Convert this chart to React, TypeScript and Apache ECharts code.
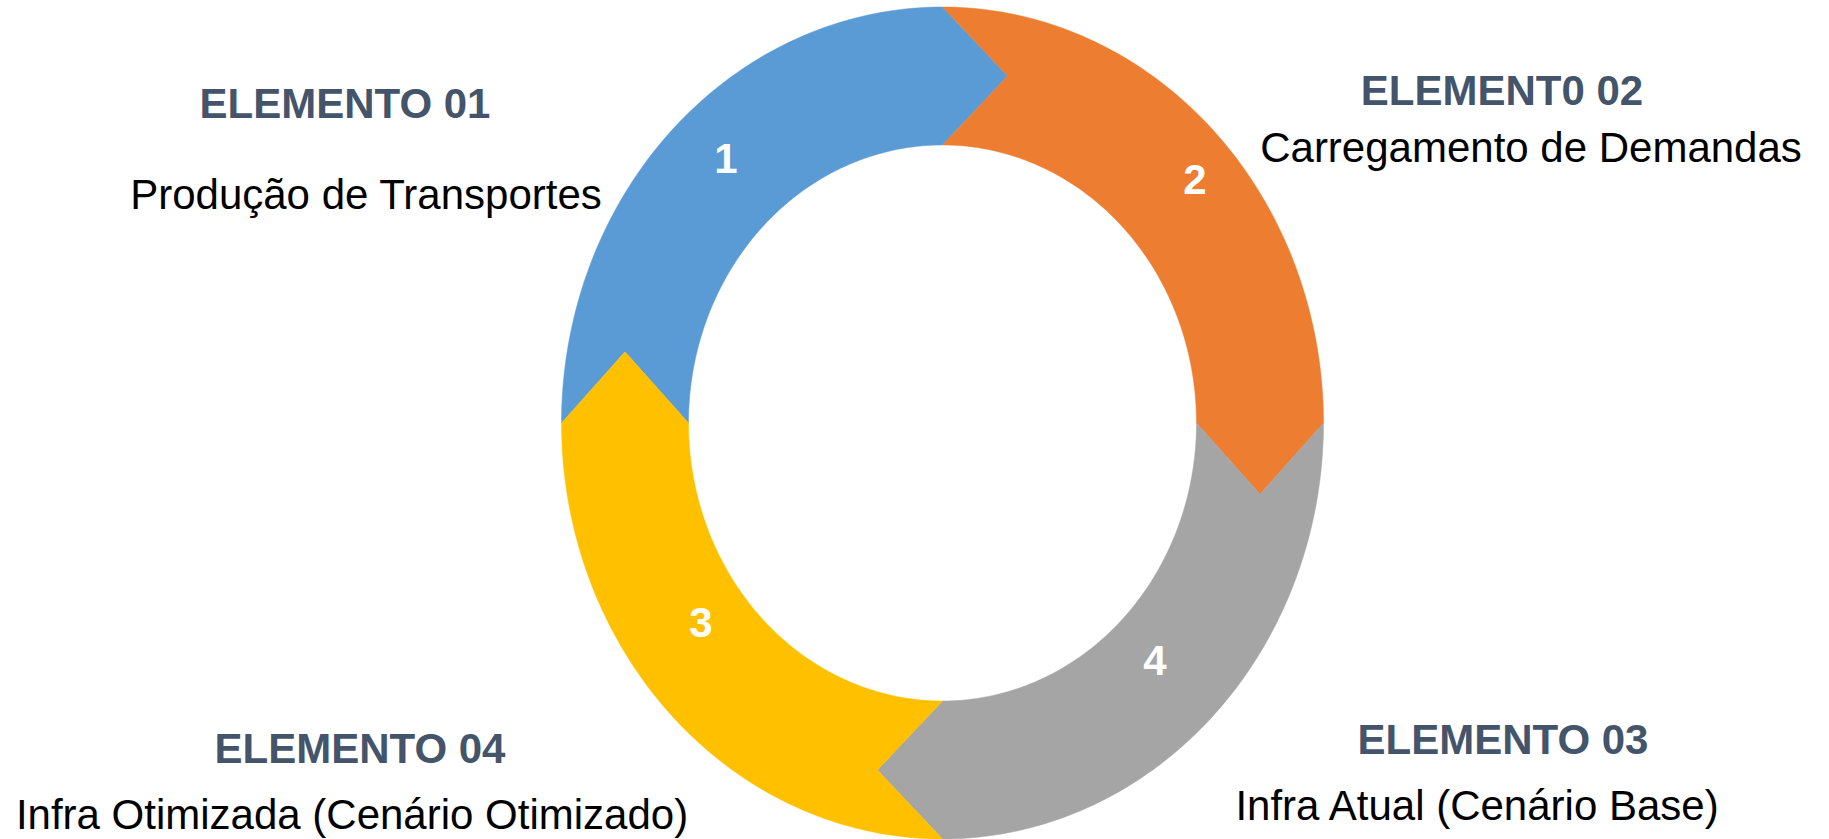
import React, { useEffect, useRef } from "react";
import * as echarts from "echarts";

// Clockwise order of the ring segments, starting at 9 o'clock
const segmentLabels = ["1", "2", "4", "3"];
const segmentValues = [25, 25, 25, 25];
const segmentColors = ["#5B9BD5", "#ED7D31", "#A5A5A5", "#FFC000"];

const elementTitles = ["ELEMENTO 01", "ELEMENT0 02", "ELEMENTO 03", "ELEMENTO 04"];
const elementNames = [
  "Produção de Transportes",
  "Carregamento de Demandas",
  "Infra Atual (Cenário Base)",
  "Infra Otimizada (Cenário Otimizado)",
];

const FONT = "'Liberation Sans', Arial, sans-serif";

// label placement inside each segment: [angle shift in degrees, radial factor]
const LABEL_LAYOUT = [
  [3.2, 1.024],
  [3.6, 1.06],
  [0.7, 0.958],
  [8, 0.953],
];

export default function App() {
  const ref = useRef<HTMLDivElement>(null);
  useEffect(() => {
    if (!ref.current) return;
    const chart = echarts.init(ref.current, undefined, { renderer: "svg" });
    const total = segmentValues.reduce((a, b) => a + b, 0);
    const starts: number[] = [];
    let acc = 0;
    segmentValues.forEach((v) => {
      starts.push(acc);
      acc += v;
    });

    const cx = 942.5;
    const cy = 423;
    const Rx = 381;
    const Ry = 416;
    const rx = 254;
    const ry = 278;
    const mx = (Rx + rx) / 2;
    const my = (Ry + ry) / 2;
    const delta = 0.205;
    const startDeg = -90;

    const pt = (ax: number, ay: number, t: number) => [cx + ax * Math.sin(t), cy - ay * Math.cos(t)];
    const tip = (t: number) => [
      cx + mx * Math.sin(t) + delta * mx * Math.cos(t),
      cy - my * Math.cos(t) + delta * my * Math.sin(t),
    ];

    const titlePos = [
      [345, 103],
      [1502, 90],
      [1503, 739],
      [360, 748],
    ];
    const namePos = [
      [366, 194],
      [1531, 147],
      [1477, 805],
      [352, 814],
    ];

    const graphics: any[] = [];
    elementTitles.forEach((t, i) => {
      graphics.push({
        type: "text",
        x: titlePos[i][0],
        y: titlePos[i][1],
        style: {
          text: t,
          fill: "#44546A",
          font: `bold 42px ${FONT}`,
          align: "center",
          verticalAlign: "middle",
        },
      });
      graphics.push({
        type: "text",
        x: namePos[i][0],
        y: namePos[i][1],
        style: {
          text: elementNames[i],
          fill: "#000000",
          font: `42px ${FONT}`,
          align: "center",
          verticalAlign: "middle",
        },
      });
    });

    chart.setOption({
      animation: false,
      backgroundColor: "#ffffff",
      graphic: graphics,
      series: [
        {
          type: "custom",
          coordinateSystem: "none",
          data: segmentValues.map((v, i) => ({ value: [v, starts[i]], name: segmentLabels[i] })),
          renderItem: (params: any, api: any) => {
            const i = params.dataIndex;
            const v = api.value(0);
            const s = api.value(1);
            const t0 = ((startDeg + (s / total) * 360) * Math.PI) / 180;
            const t1 = ((startDeg + ((s + v) / total) * 360) * Math.PI) / 180;
            const N = 80;
            const points: number[][] = [];
            for (let k = 0; k <= N; k++) points.push(pt(Rx, Ry, t0 + ((t1 - t0) * k) / N));
            points.push(tip(t1));
            for (let k = N; k >= 0; k--) points.push(pt(rx, ry, t0 + ((t1 - t0) * k) / N));
            points.push(tip(t0));
            const lay = LABEL_LAYOUT[i];
            const tm = (t0 + t1) / 2 + (lay[0] * Math.PI) / 180;
            const lp = pt(mx * lay[1], my * lay[1], tm);
            return {
              type: "group",
              children: [
                {
                  type: "polygon",
                  shape: { points },
                  style: { fill: segmentColors[i], stroke: segmentColors[i], lineWidth: 0.5 },
                },
                {
                  type: "text",
                  x: lp[0],
                  y: lp[1],
                  style: {
                    text: segmentLabels[i],
                    fill: "#ffffff",
                    font: `bold 42px ${FONT}`,
                    align: "center",
                    verticalAlign: "middle",
                  },
                },
              ],
            };
          },
        },
      ],
    });
    return () => chart.dispose();
  }, []);
  return (
    <div
      ref={ref}
      style={{ position: "fixed", left: 0, top: 0, width: 1829, height: 839 }}
    />
  );
}
